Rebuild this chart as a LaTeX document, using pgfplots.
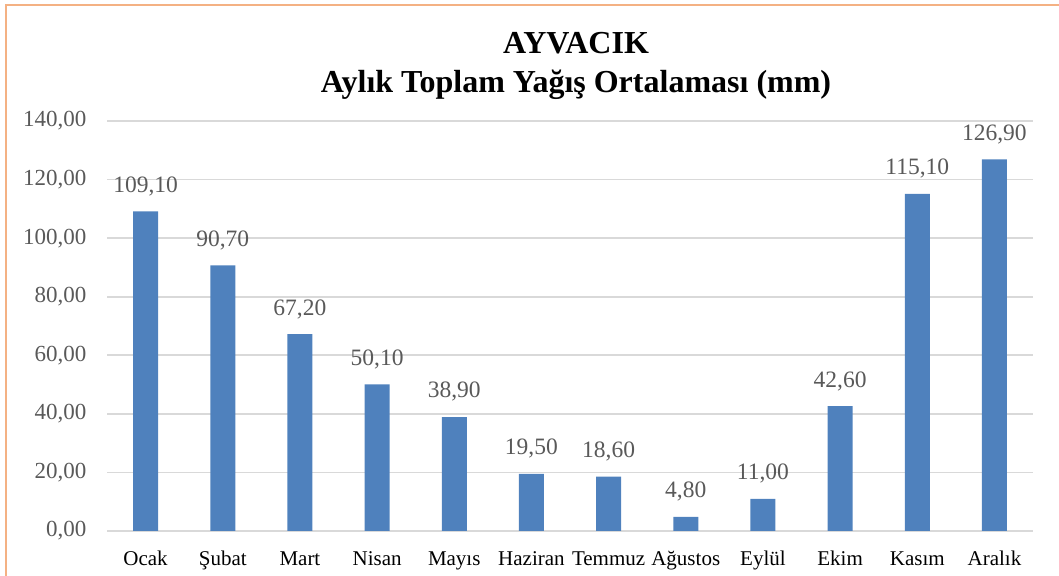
\documentclass[border=0pt]{standalone}
\usepackage{fontspec}
\setmainfont{Liberation Serif}
\usepackage{pgfplots}
\pgfplotsset{compat=1.18}
\definecolor{barblue}{HTML}{4F81BD}
\definecolor{gridgray}{HTML}{D9D9D9}
\definecolor{labgray}{HTML}{595959}
\definecolor{frameorange}{HTML}{F4B183}

\begin{document}
\begin{tikzpicture}[x=1pt,y=1pt]
\useasboundingbox (0,0) rectangle (1059,575);
\draw[frameorange, line width=2.5pt] (6,-10) -- (6,570) -- (1070,570);
\node[font=\bfseries\fontsize{32}{39}\selectfont, align=center] at (576,509)
  {AYVACIK\\Aylık Toplam Yağış Ortalaması (mm)};
\begin{axis}[
  at={(107pt,44pt)}, anchor=south west,
  scale only axis, width=926pt, height=410pt,
  ybar, bar width=25pt,
  xmin=-0.5, xmax=11.5, ymin=0, ymax=140,
  enlargelimits=false, clip=false,
  xtick={0,...,11},
  xticklabels={Ocak,Şubat,Mart,Nisan,Mayıs,Haziran,Temmuz,Ağustos,Eylül,Ekim,Kasım,Aralık},
  ytick={0,20,...,140},
  ymajorgrids, major grid style={gridgray, line width=1.6pt},
  axis line style={draw=none}, tick style={draw=none},
  /pgf/number format/assume math mode=true,
  yticklabel style={font=\fontsize{23}{27}\selectfont, text=labgray, xshift=-17pt,
    /pgf/number format/.cd, fixed, zerofill, precision=2, use comma},
  xticklabel style={font=\fontsize{21}{25}\selectfont, text=black, anchor=base, yshift=-30pt},
  nodes near coords={\pgfmathprintnumber[fixed,zerofill,precision=2,use comma,assume math mode=true]{\pgfplotspointmeta}},
  every node near coord/.append style={font=\fontsize{23.5}{27}\selectfont, text=labgray, yshift=12pt},
]
\addplot[fill=barblue, draw=none] coordinates {
  (0,109.1) (1,90.7) (2,67.2) (3,50.1) (4,38.9) (5,19.5)
  (6,18.6) (7,4.8) (8,11.0) (9,42.6) (10,115.1) (11,126.9)
};
\end{axis}
\end{tikzpicture}
\end{document}
